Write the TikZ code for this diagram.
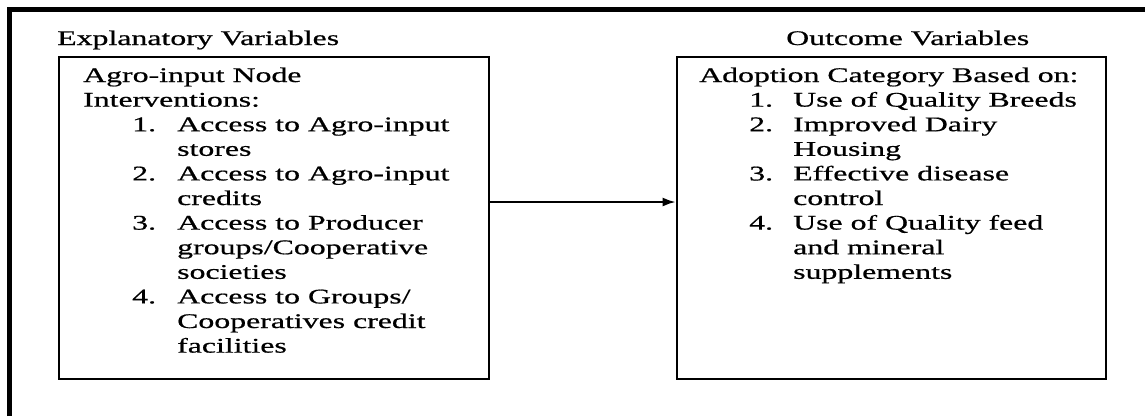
\documentclass[tikz,border=0pt]{standalone}
\usepackage{fontspec}
\setmainfont[FakeStretch=1.53,FakeBold=0.7]{Liberation Serif}
\usetikzlibrary{arrows.meta}
\begin{document}
\begin{tikzpicture}[x=1pt,y=1pt,
  txt/.style={inner sep=0pt,anchor=base west,font=\fontsize{20.8}{24.6}\selectfont},
  framebox/.style={draw=black,line width=2.8pt,inner sep=0pt},
  outerline/.style={line width=5pt},
  conn/.style={line width=1.9pt,-{Latex[length=13pt,width=9pt]}}]
\useasboundingbox (0,0) rectangle (1145,-416);
\draw[outerline] (9.5,-416) -- (9.5,-9.5) -- (1145,-9.5);
\node[framebox,minimum width=430pt,minimum height=322pt] (boxL) at (274,-218) {};
\node[framebox,minimum width=429pt,minimum height=322pt] (boxR) at (891.5,-218) {};
\node[txt] (titleL) at (57,-45) {Explanatory Variables};
\node[txt] (titleR) at (786,-45) {Outcome Variables};
\node[txt] (listL) at (83,-82) {\begin{tabular}[t]{@{}p{49pt}@{}p{45pt}@{}l@{}}
\multicolumn{3}{@{}l@{}}{Agro-input Node}\\
\multicolumn{3}{@{}l@{}}{Interventions:}\\
 & 1. & Access to Agro-input\\
 & & stores\\
 & 2. & Access to Agro-input\\
 & & credits\\
 & 3. & Access to Producer\\
 & & groups/Cooperative\\
 & & societies\\
 & 4. & Access to Groups/\\
 & & Cooperatives credit\\
 & & facilities
\end{tabular}};
\node[txt] (listR) at (699,-82) {\begin{tabular}[t]{@{}p{50pt}@{}p{44pt}@{}l@{}}
\multicolumn{3}{@{}l@{}}{Adoption Category Based on:}\\
 & 1. & Use of Quality Breeds\\
 & 2. & Improved Dairy\\
 & & Housing\\
 & 3. & Effective disease\\
 & & control\\
 & 4. & Use of Quality feed\\
 & & and mineral\\
 & & supplements
\end{tabular}};
\draw[conn] ([yshift=16pt]boxL.east) -- ([yshift=16pt]boxR.west);
\end{tikzpicture}
\end{document}
